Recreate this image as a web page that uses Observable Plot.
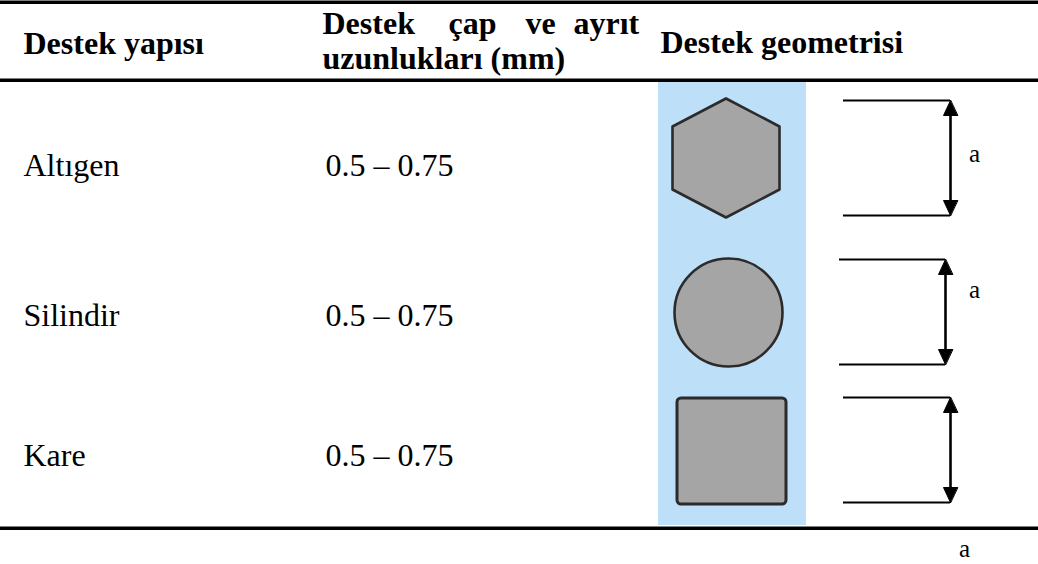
<!DOCTYPE html>
<html>
<head>
<meta charset="utf-8">
<script src="https://cdn.jsdelivr.net/npm/d3@7"></script>
<script src="https://cdn.jsdelivr.net/npm/@observablehq/plot@0.6"></script>
<style>
  html, body { margin: 0; padding: 0; background: #ffffff; }
  #chart svg { display: block; }
</style>
</head>
<body>
<div id="chart"></div>
<script>
// ---- Data ----
const rows = ["Altıgen", "Silindir", "Kare"];
const ranges = ["0.5 – 0.75", "0.5 – 0.75", "0.5 – 0.75"];
const shapes = ["hexagon", "circle", "square"];
const dimLabels = ["a", "a", "a"];
const header1 = "Destek yapısı";
const header2Line1 = ["Destek", "çap", "ve", "ayrıt"];
const header2Line2 = "uzunlukları (mm)";
const header3 = "Destek geometrisi";

// ---- Layout (pixel space of the table) ----
const W = 1038, H = 564;
const FONT = "Liberation Serif, Times New Roman, serif";
const colX = {name: 23, range: 325, geomHead: 660, head2: 322};
const head2WordX = [322, 448, 525, 573];
const rowTextY = [165, 315, 455];
const blue = {x1: 658, x2: 806, y1: 81, y2: 525};
const tableRules = [1.75, 79.75, 527.75];
const dimTop = [100, 259, 397];
const dimBottom = [215, 364, 502];
const dimX1 = [843, 839, 843];
const dimX2 = [950, 945, 950];
const labelPos = [[974, 153], [974, 289], [964, 548]];
const shapeGeom = [
  {cx: 725.5, cy: 157.5, rx: 53.5, ry: 59.5, hy: 31.5},
  {cx: 728, cy: 312, r: 54},
  {x1: 677, x2: 786, y1: 398, y2: 504}
];

// hexagon polygon
const hex = shapeGeom[0];
const hexPts = [
  [hex.cx, hex.cy - hex.ry], [hex.cx + hex.rx, hex.cy - hex.hy], [hex.cx + hex.rx, hex.cy + hex.hy],
  [hex.cx, hex.cy + hex.ry], [hex.cx - hex.rx, hex.cy + hex.hy], [hex.cx - hex.rx, hex.cy - hex.hy]
].map(([x, y]) => ({x, y}));

// arrow heads
const heads = [];
rows.forEach((r, i) => {
  const ax = dimX2[i], t = dimTop[i], b = dimBottom[i];
  heads.push({id: i + "t", x: ax, y: t}, {id: i + "t", x: ax - 7, y: t + 15}, {id: i + "t", x: ax + 7, y: t + 15});
  heads.push({id: i + "b", x: ax, y: b}, {id: i + "b", x: ax - 7, y: b - 15}, {id: i + "b", x: ax + 7, y: b - 15});
});

const dims = rows.map((r, i) => ({i, top: dimTop[i], bottom: dimBottom[i], x1: dimX1[i], x2: dimX2[i]}));
const dimLines = dims.flatMap(d => [{y: d.top, x1: d.x1, x2: d.x2}, {y: d.bottom, x1: d.x1, x2: d.x2}]);
const bodyRows = rows.map((r, i) => ({name: r, range: ranges[i], y: rowTextY[i]}));
const labels = dimLabels.map((t, i) => ({t, x: labelPos[i][0], y: labelPos[i][1]}));

const shapeFill = "#a5a5a5", shapeStroke = "#2b2b2b";

const chart = Plot.plot({
  width: W, height: H,
  margin: 0,
  x: {domain: [0, W], range: [0, W], axis: null},
  y: {domain: [0, H], range: [0, H], axis: null},
  style: {background: "#ffffff"},
  marks: [
    // light-blue geometry column
    Plot.rect([blue], {x1: "x1", x2: "x2", y1: "y1", y2: "y2", fill: "#bddff8"}),
    // table rules
    Plot.ruleY(tableRules, {stroke: "#000", strokeWidth: 3.6}),
    // header texts
    Plot.text([header1], {x: colX.name, y: 43, text: d => d, textAnchor: "start", fontFamily: FONT, fontSize: 32, fontWeight: "bold", fill: "#000"}),
    Plot.text(header2Line1, {x: (d, i) => head2WordX[i], y: 23, text: d => d, textAnchor: "start", fontFamily: FONT, fontSize: 32, fontWeight: "bold", fill: "#000"}),
    Plot.text([header2Line2], {x: colX.head2, y: 58, text: d => d, textAnchor: "start", fontFamily: FONT, fontSize: 32, fontWeight: "bold", fill: "#000"}),
    Plot.text([header3], {x: colX.geomHead, y: 42, text: d => d, textAnchor: "start", fontFamily: FONT, fontSize: 32, fontWeight: "bold", fill: "#000"}),
    // body texts
    Plot.text(bodyRows, {x: colX.name, y: "y", text: "name", textAnchor: "start", fontFamily: FONT, fontSize: 32, fill: "#000"}),
    Plot.text(bodyRows, {x: colX.range, y: "y", text: "range", textAnchor: "start", fontFamily: FONT, fontSize: 32, fill: "#000"}),
    // shapes
    Plot.line(hexPts, {x: "x", y: "y", curve: "linear-closed", fill: shapeFill, stroke: shapeStroke, strokeWidth: 2.6, strokeLinejoin: "round"}),
    Plot.dot([shapeGeom[1]], {x: "cx", y: "cy", r: shapeGeom[1].r, fill: shapeFill, stroke: shapeStroke, strokeWidth: 2.6}),
    Plot.rect([shapeGeom[2]], {x1: "x1", x2: "x2", y1: "y1", y2: "y2", rx: 4, fill: shapeFill, stroke: shapeStroke, strokeWidth: 3}),
    // dimension lines
    Plot.ruleY(dimLines, {y: "y", x1: "x1", x2: "x2", stroke: "#000", strokeWidth: 2}),
    Plot.ruleX(dims, {x: "x2", y1: d => d.top + 6, y2: d => d.bottom - 6, stroke: "#000", strokeWidth: 2.6}),
    Plot.line(heads, {x: "x", y: "y", z: "id", curve: "linear-closed", fill: "#000", stroke: "#000", strokeWidth: 1}),
    Plot.text(labels, {x: "x", y: "y", text: "t", textAnchor: "middle", fontFamily: FONT, fontSize: 25, fill: "#000"})
  ]
});
document.getElementById("chart").appendChild(chart);
</script>
</body>
</html>
